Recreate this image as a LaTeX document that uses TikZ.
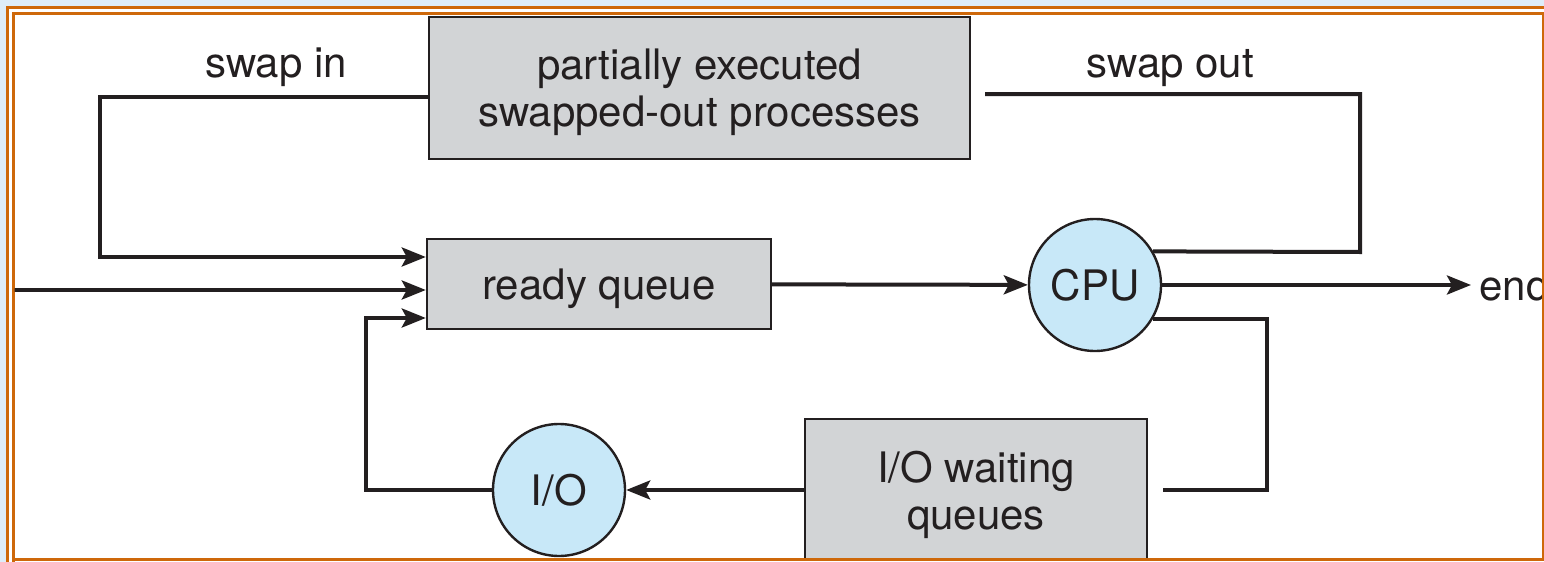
\documentclass[tikz,border=0pt]{standalone}
\usepackage{fontspec}
\setmainfont{TeX Gyre Heros}
\usetikzlibrary{arrows.meta}
\definecolor{boxgray}{RGB}{210,212,214}
\definecolor{unitblue}{RGB}{200,232,248}
\definecolor{ink}{RGB}{35,31,32}
\definecolor{frameorange}{RGB}{206,104,10}
\definecolor{pageblue}{RGB}{222,237,249}

\begin{document}
\begin{tikzpicture}[x=0.5pt, y=-0.5pt,
  font=\fontsize{21}{23.5}\selectfont, text=ink,
  tag/.style={text depth=0pt},
  queue/.style={tag, draw=ink, line width=1.2pt, fill=boxgray, align=center, inner sep=0pt},
  unit/.style={circle, draw=ink, line width=1.2pt, fill=unitblue, minimum size=66pt, inner sep=0pt},
  link/.style={draw=ink, line width=2pt},
  flow/.style={link, -{Stealth[length=12pt, width=9.5pt, inset=2.5pt]}}]
  \useasboundingbox (0,0) rectangle (1544,562);
  % Hintergrund und Rahmen
  \fill[pageblue] (0,0) rectangle (1544,562);
  \fill[white] (7,7) rectangle (1544,562);
  \draw[frameorange, line width=1.3pt] (7.5,562) -- (7.5,7.5) -- (1544,7.5);
  \draw[frameorange, line width=1.3pt] (13.5,562) -- (13.5,13.5) -- (1544,13.5);
  \begin{scope}
    \clip (14.5,14.5) rectangle (1542.5,558.5);
    % Warteschlangen und Einheiten
    \node[queue, minimum width=270.5pt, minimum height=71pt] (swapped) at (699.5,88) {partially executed\\swapped-out processes};
    \node[queue, minimum width=172pt, minimum height=45pt] (ready) at (599,284) {ready queue};
    \node[unit] (cpu) at (1095,285) {CPU};
    \node[queue, minimum width=171pt, minimum height=71pt] (iowait) at (976,490) {I/O waiting\\queues};
    \node[unit] (io) at (559,490) {I/O};
    % Beschriftungen
    \node[tag] (swapinlbl) at (276,63) {swap in};
    \node[tag] (swapoutlbl) at (1170,63) {swap out};
    \node[tag, anchor=west, inner sep=4pt] (endlbl) at (1471,285) {end};
    % Knickpunkte
    \coordinate (entry) at (0,290);
    \coordinate (swapinturn) at (100,257);
    \coordinate (swapoutturn) at (1360,252);
    \coordinate (cpuioturn) at (1267,490);
    \coordinate (ioturn) at (366,318);
    % Linien, Pfeile
    \draw[flow] ([yshift=-4.5pt]swapped.west) -| (swapinturn) -- (swapinturn -| ready.west);
    \draw[flow] (entry) -- (entry -| ready.west);
    \draw[flow] (io.west) -| (ioturn) -- (ioturn -| ready.west);
    \draw[flow] (ready) -- (cpu);
    \draw[flow] (cpu) -- (endlbl);
    \draw[link] ([xshift=7pt,yshift=-3pt]swapped.east) -| (swapoutturn) -- (cpu.30);
    \draw[link] (cpu.-30) -| (cpuioturn) -- ([xshift=7.5pt]iowait.east);
    \draw[flow] (iowait) -- (io);
  \end{scope}
  \draw[frameorange, line width=1.3pt] (13,559.5) -- (1544,559.5);
  \draw[frameorange, line width=0.6pt] (1543,13) -- (1543,559);
\end{tikzpicture}
\end{document}
